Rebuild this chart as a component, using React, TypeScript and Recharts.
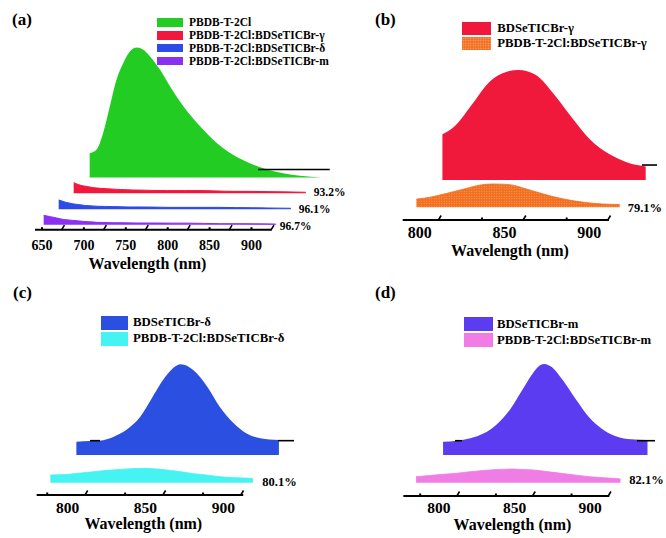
import React from 'react';
import { ComposedChart, Area, XAxis, YAxis, ReferenceLine, ReferenceDot, Legend } from 'recharts';

const SERIF = "'Liberation Serif', 'Times New Roman', Times, serif";

// ---------------- data (normalised PL intensity, a.u.) ----------------
// (a)
const A_WAVELENGTH = [652, 660, 668, 676, 684, 692, 700, 708, 716, 724, 736, 748, 764, 784, 804, 823, 843, 863, 883, 903, 929];
const A_PBDB = [0.187, 0.213, 0.341, 0.546, 0.752, 0.879, 0.969, 1.0, 0.982, 0.931, 0.828, 0.7, 0.546, 0.392, 0.264, 0.175, 0.11, 0.064, 0.033, 0.013, 0.0];
const A_BLEND_GAMMA = [0.082, 0.062, 0.052, 0.043, 0.038, 0.035, 0.032, 0.029, 0.027, 0.025, 0.024, 0.022, 0.021, 0.021, 0.021, 0.018, 0.015, 0.015, 0.013, 0.011, 0.008];
const A_BLEND_DELTA = [0.072, 0.055, 0.043, 0.036, 0.029, 0.026, 0.023, 0.022, 0.021, 0.02, 0.018, 0.018, 0.017, 0.015, 0.015, 0.015, 0.015, 0.013, 0.012, 0.01, 0.008];
const A_BLEND_M = [0.072, 0.062, 0.051, 0.04, 0.035, 0.03, 0.025, 0.022, 0.018, 0.017, 0.015, 0.015, 0.013, 0.013, 0.012, 0.012, 0.01, 0.008, 0.008, 0.007, 0.005];
const A_TICKS = [650, 675, 700, 725, 750, 775, 800, 825, 850, 875, 900, 925];
const A_QUENCH = ['93.2%', '96.1%', '96.7%'];

// (b)
const B_WAVELENGTH = [798, 806, 816, 826, 836, 843, 853, 863, 873, 885, 897, 908, 918];
const B_BDSE_GAMMA = [0.415, 0.501, 0.698, 0.895, 0.985, 1.0, 0.956, 0.795, 0.595, 0.371, 0.231, 0.155, 0.123];
const B_BLEND_GAMMA = [0.075, 0.091, 0.127, 0.166, 0.203, 0.212, 0.206, 0.166, 0.121, 0.075, 0.045, 0.03, 0.025];
const B_TICKS = [800, 825, 850, 875, 900];
const B_QUENCH = ['79.1%'];

// (c)
const C_WAVELENGTH = [789, 798, 804, 813, 821, 830, 838, 847, 856, 864, 873, 881, 890, 898, 907, 919];
const C_BDSE_DELTA = [0.147, 0.154, 0.158, 0.202, 0.276, 0.422, 0.643, 0.882, 1.0, 0.937, 0.753, 0.533, 0.349, 0.239, 0.184, 0.165];
const C_BLEND_DELTA = [0.085, 0.09, 0.099, 0.115, 0.13, 0.142, 0.152, 0.158, 0.153, 0.14, 0.12, 0.1, 0.083, 0.066, 0.056, 0.047];
const C_TICKS = [775, 800, 825, 850, 875, 900];
const C_QUENCH = ['80.1%'];

// (d)
const D_WAVELENGTH = [785, 794, 803, 812, 820, 829, 838, 845, 849, 852, 856, 864, 873, 882, 891, 900, 909, 920];
const D_BDSE_M = [0.146, 0.157, 0.184, 0.238, 0.33, 0.495, 0.733, 0.915, 0.985, 1.0, 0.975, 0.824, 0.604, 0.403, 0.275, 0.201, 0.173, 0.165];
const D_BLEND_M = [0.066, 0.079, 0.092, 0.104, 0.119, 0.134, 0.144, 0.149, 0.15, 0.148, 0.145, 0.138, 0.119, 0.1, 0.082, 0.065, 0.055, 0.042];
const D_TICKS = [775, 800, 825, 850, 875, 900];
const D_QUENCH = ['82.1%'];

// ---------------- rows built from the arrays ----------------
const rowsA = A_WAVELENGTH.map((wl, i) => ({ wl, pbdb: A_PBDB[i], gamma: A_BLEND_GAMMA[i], delta: A_BLEND_DELTA[i], m: A_BLEND_M[i] }));
const rowsB = B_WAVELENGTH.map((wl, i) => ({ wl, neat: B_BDSE_GAMMA[i], blend: B_BLEND_GAMMA[i] }));
const rowsC = C_WAVELENGTH.map((wl, i) => ({ wl, neat: C_BDSE_DELTA[i], blend: C_BLEND_DELTA[i] }));
const rowsD = D_WAVELENGTH.map((wl, i) => ({ wl, neat: D_BDSE_M[i], blend: D_BLEND_M[i] }));

type Layer = {
  key: string; name: string; color: string; fill?: string; swatch?: string;
  shiftPx: number; basePx: number; strokeW?: number;
  pct?: string; pctDx?: number; pctLift?: number;
  blackY?: number; blackSegs?: [number, number][];
};

type PanelCfg = {
  left: number; top: number; width: number; height: number;
  plotLeft: number; plotRight: number; plotTop: number; plotBottom: number;
  anchorWl: number; anchorPx: number; pxPerNm: number; pxPerUnit: number;
  ticks: number[]; labelMax: number; markShiftNm: number; slantOnFifty: boolean;
  tickFont: number; tickBaseline: number; pctFont: number;
  axisFrom: number; axisTo: number;
  legend: { left: number; top: number; rowH: number; swW: number; swH: number; gap: number; font: number };
  layers: Layer[]; rows: any[];
};

const ORANGE_SWATCH = 'radial-gradient(circle, #fbb08a 0.6px, transparent 0.9px) 0 0 / 2.5px 2.5px, #f3701f';

const PANEL_A: PanelCfg = {
  left: 0, top: 0, width: 352, height: 272,
  plotLeft: 35, plotRight: 338, plotTop: 10, plotBottom: 229.7,
  anchorWl: 650, anchorPx: 42, pxPerNm: 0.838, pxPerUnit: 130,
  ticks: A_TICKS, labelMax: 900, markShiftNm: 0, slantOnFifty: false,
  tickFont: 14, tickBaseline: 250, pctFont: 11.5,
  axisFrom: 641.7, axisTo: 924,
  legend: { left: 157, top: 16.15, rowH: 12.8, swW: 26, swH: 8.5, gap: 6, font: 11.5 },
  rows: rowsA,
  layers: [
    { key: 'pbdb', name: 'PBDB-T-2Cl', color: '#22cc22', shiftPx: 46, basePx: 177.5, blackY: 0.0615, blackSegs: [[853, 938.5]] },
    { key: 'gamma', name: 'PBDB-T-2Cl:BDSeTICBr-γ', color: '#f2173c', shiftPx: 30, basePx: 193.3, strokeW: 1, pct: A_QUENCH[0], pctDx: 8, pctLift: 1.7 },
    { key: 'delta', name: 'PBDB-T-2Cl:BDSeTICBr-δ', color: '#2d4ce6', shiftPx: 15, basePx: 209.3, strokeW: 1, pct: A_QUENCH[1], pctDx: 8, pctLift: 0.4 },
    { key: 'm', name: 'PBDB-T-2Cl:BDSeTICBr-m', color: '#8b2ff0', shiftPx: 0, basePx: 224.7, strokeW: 1, pct: A_QUENCH[2], pctDx: 4, pctLift: -0.9 },
  ],
};

const PANEL_B: PanelCfg = {
  left: 333, top: 0, width: 333, height: 272,
  plotLeft: 67, plotRight: 329, plotTop: 10, plotBottom: 220,
  anchorWl: 800, anchorPx: 86.8, pxPerNm: 1.694, pxPerUnit: 110,
  ticks: B_TICKS, labelMax: 900, markShiftNm: 11.7, slantOnFifty: true,
  tickFont: 16, tickBaseline: 238.3, pctFont: 12.5,
  axisFrom: 789.9, axisTo: 911.7,
  legend: { left: 129.3, top: 20.7, rowH: 15, swW: 29, swH: 13, gap: 6, font: 12.7 },
  rows: rowsB,
  layers: [
    { key: 'neat', name: 'BDSeTICBr-γ', color: '#f0193c', shiftPx: 26, basePx: 180, blackY: 0.136, blackSegs: [[915.8, 924.7]] },
    { key: 'blend', name: 'PBDB-T-2Cl:BDSeTICBr-γ', color: '#f3701f', fill: 'url(#orangeDots)', swatch: ORANGE_SWATCH, shiftPx: 0, basePx: 207.3, strokeW: 0.8, pct: B_QUENCH[0], pctDx: 8, pctLift: -0.6 },
  ],
};

const PANEL_C: PanelCfg = {
  left: 0, top: 270, width: 333, height: 268,
  plotLeft: 34, plotRight: 300, plotTop: 10, plotBottom: 225,
  anchorWl: 800, anchorPx: 67.5, pxPerNm: 1.558, pxPerUnit: 90.7,
  ticks: C_TICKS, labelMax: 900, markShiftNm: 12, slantOnFifty: true,
  tickFont: 15.5, tickBaseline: 512.5 - 270, pctFont: 12.5,
  axisFrom: 780.2, axisTo: 912.8,
  legend: { left: 101, top: 45.15, rowH: 15.7, swW: 27, swH: 14, gap: 5, font: 12.8 },
  rows: rowsC,
  layers: [
    { key: 'neat', name: 'BDSeTICBr-δ', color: '#2b4fe0', shiftPx: 26, basePx: 185, blackY: 0.158, blackSegs: [[797.8, 804.2], [918.4, 928.7]] },
    { key: 'blend', name: 'PBDB-T-2Cl:BDSeTICBr-δ', color: '#45f3f3', shiftPx: 0, basePx: 212.7, strokeW: 0.8, pct: C_QUENCH[0], pctDx: 9.4, pctLift: 1.1 },
  ],
};

const PANEL_D: PanelCfg = {
  left: 333, top: 270, width: 333, height: 268,
  plotLeft: 67, plotRight: 329, plotTop: 10, plotBottom: 226,
  anchorWl: 800, anchorPx: 105.8, pxPerNm: 1.514, pxPerUnit: 91,
  ticks: D_TICKS, labelMax: 900, markShiftNm: 12.7, slantOnFifty: true,
  tickFont: 15.5, tickBaseline: 513 - 270, pctFont: 12.5,
  axisFrom: 776.6, axisTo: 912.6,
  legend: { left: 131, top: 46.2, rowH: 16, swW: 29, swH: 14.5, gap: 4, font: 12.7 },
  rows: rowsD,
  layers: [
    { key: 'neat', name: 'BDSeTICBr-m', color: '#5b3cf0', shiftPx: 27, basePx: 185, blackY: 0.157, blackSegs: [[792.9, 797.5], [913.1, 925]] },
    { key: 'blend', name: 'PBDB-T-2Cl:BDSeTICBr-m', color: '#f07de6', shiftPx: 0, basePx: 212.7, strokeW: 0.8, pct: D_QUENCH[0], pctDx: 8.8, pctLift: 2.8 },
  ],
};

const renderTick = (props: any, cfg: PanelCfg) => {
  const { x, payload } = props;
  const v = payload.value as number;
  const isFifty = v % 50 === 0;
  const mx = x + cfg.markShiftNm * cfg.pxPerNm;
  const y0 = cfg.plotBottom;
  const slanted = cfg.slantOnFifty ? isFifty : !isFifty;
  return (
    <g>
      {slanted ? (
        <path d={`M${mx - 1.5},${y0 + 0.5} L${mx + 1.5},${y0 - 4.5}`} stroke="#000" strokeWidth={1.6} fill="none" />
      ) : (
        <rect x={mx - 1} y={y0 - 2.5} width={2} height={2.5} fill="#000" />
      )}
      {isFifty && v <= cfg.labelMax ? (
        <text x={x} y={cfg.tickBaseline} textAnchor="middle" fontFamily={SERIF} fontWeight="bold" fontSize={cfg.tickFont} fill="#000">
          {v}
        </text>
      ) : null}
    </g>
  );
};

const Panel = ({ cfg }: { cfg: PanelCfg }) => {
  const p = cfg.pxPerNm;
  const x0 = cfg.anchorWl - (cfg.anchorPx - cfg.plotLeft) / p;
  const x1 = x0 + (cfg.plotRight - cfg.plotLeft) / p;
  const xDomain = (s: number): [number, number] => [x0 - s / p, x1 - s / p];
  const yDomain = (b: number): [number, number] => [-(cfg.plotBottom - b) / cfg.pxPerUnit, (b - cfg.plotTop) / cfg.pxPerUnit];
  const n = cfg.layers.length;
  const front = n - 1;
  const frontYMin = yDomain(cfg.layers[front].basePx)[0];
  const lastWl = cfg.rows[cfg.rows.length - 1].wl;
  const lg = cfg.legend;

  return (
    <div style={{ position: 'absolute', left: cfg.left, top: cfg.top, width: cfg.width, height: cfg.height }}>
      <ComposedChart
        width={cfg.width}
        height={cfg.height}
        data={cfg.rows}
        margin={{ top: cfg.plotTop, left: cfg.plotLeft, right: cfg.width - cfg.plotRight, bottom: 0 }}
      >
        <defs>
          <pattern id="orangeDots" width="2.5" height="2.5" patternUnits="userSpaceOnUse">
            <rect width="2.5" height="2.5" fill="#f3701f" />
            <circle cx="1.25" cy="1.25" r="0.5" fill="#fbb08a" />
          </pattern>
        </defs>
        {cfg.layers.map((l, i) => (
          <XAxis
            key={'x' + i}
            xAxisId={'x' + i}
            dataKey="wl"
            type="number"
            domain={xDomain(l.shiftPx)}
            hide={i !== front}
            height={cfg.height - cfg.plotBottom}
            ticks={i === front ? cfg.ticks : undefined}
            interval={0}
            axisLine={false}
            tickLine={false}
            tick={i === front ? (props: any) => renderTick(props, cfg) : false}
          />
        ))}
        {cfg.layers.map((l, i) => (
          <YAxis key={'y' + i} yAxisId={'y' + i} type="number" domain={yDomain(l.basePx)} hide />
        ))}
        {cfg.layers.map((l, i) => (
          <Area
            key={l.key}
            xAxisId={'x' + i}
            yAxisId={'y' + i}
            dataKey={l.key}
            name={l.name}
            type="monotone"
            stroke={l.strokeW ? l.color : 'none'}
            strokeWidth={l.strokeW || 0}
            fill={l.fill || l.color}
            fillOpacity={1}
            baseValue={0}
            dot={false}
            activeDot={false}
            isAnimationActive={false}
          />
        ))}
        {cfg.layers.map((l, i) =>
          (l.blackSegs || []).map((seg, j) => (
            <ReferenceLine
              key={'b' + i + '-' + j}
              xAxisId={'x' + i}
              yAxisId={'y' + i}
              segment={[{ x: seg[0], y: l.blackY as number }, { x: seg[1], y: l.blackY as number }]}
              stroke="#000"
              strokeWidth={1.6}
              ifOverflow="visible"
            />
          ))
        )}
        <ReferenceLine
          xAxisId={'x' + front}
          yAxisId={'y' + front}
          segment={[{ x: cfg.axisFrom, y: frontYMin }, { x: cfg.axisTo, y: frontYMin }]}
          stroke="#000"
          strokeWidth={2}
          ifOverflow="visible"
        />
        {cfg.layers.map((l, i) =>
          l.pct ? (
            <ReferenceDot
              key={'p' + i}
              xAxisId={'x' + i}
              yAxisId={'y' + i}
              x={lastWl}
              y={(l.pctLift || 0) / cfg.pxPerUnit}
              r={0}
              fill="none"
              stroke="none"
              ifOverflow="visible"
              label={{
                value: l.pct,
                position: 'right',
                offset: l.pctDx,
                fill: '#000',
                fontSize: cfg.pctFont,
                fontWeight: 'bold',
                fontFamily: SERIF,
              }}
            />
          ) : null
        )}
        <Legend
          layout="vertical"
          align="center"
          verticalAlign="middle"
          wrapperStyle={{ left: lg.left, top: lg.top, right: 'auto', bottom: 'auto', width: 'auto', height: 'auto', margin: 0, padding: 0 }}
          content={() => (
            <div style={{ fontFamily: SERIF, fontWeight: 'bold', fontSize: lg.font, color: '#000' }}>
              {cfg.layers.map((l) => (
                <div key={l.key} style={{ display: 'flex', alignItems: 'center', height: lg.rowH, whiteSpace: 'nowrap' }}>
                  <div style={{ width: lg.swW, height: lg.swH, background: l.swatch || l.color, marginRight: lg.gap }} />
                  <span style={{ lineHeight: lg.rowH + 'px' }}>{l.name}</span>
                </div>
              ))}
            </div>
          )}
        />
      </ComposedChart>
    </div>
  );
};

const TITLES = [
  { text: '(a)', x: 12, y: 25, size: 17, anchor: 'start' },
  { text: '(b)', x: 375, y: 25, size: 17, anchor: 'start' },
  { text: '(c)', x: 13, y: 298, size: 17, anchor: 'start' },
  { text: '(d)', x: 375, y: 298, size: 17, anchor: 'start' },
  { text: 'Wavelength (nm)', x: 147.5, y: 269, size: 16, anchor: 'middle' },
  { text: 'Wavelength (nm)', x: 510, y: 256, size: 16, anchor: 'middle' },
  { text: 'Wavelength (nm)', x: 143.3, y: 529, size: 16, anchor: 'middle' },
  { text: 'Wavelength (nm)', x: 512.5, y: 529.5, size: 16, anchor: 'middle' },
];

export default function App() {
  return (
    <div style={{ position: 'absolute', left: 0, top: 0, width: 666, height: 538, background: '#fff', overflow: 'hidden' }}>
      <Panel cfg={PANEL_A} />
      <Panel cfg={PANEL_B} />
      <Panel cfg={PANEL_C} />
      <Panel cfg={PANEL_D} />
      <svg width={666} height={538} style={{ position: 'absolute', left: 0, top: 0, pointerEvents: 'none' }}>
        {TITLES.map((t, i) => (
          <text key={i} x={t.x} y={t.y} textAnchor={t.anchor as any} fontFamily={SERIF} fontWeight="bold" fontSize={t.size} fill="#000">
            {t.text}
          </text>
        ))}
      </svg>
    </div>
  );
}
